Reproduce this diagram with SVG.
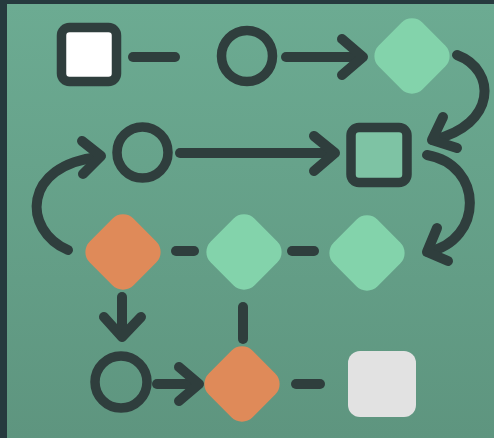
<svg xmlns="http://www.w3.org/2000/svg" width="494" height="438" viewBox="0 0 494 438">
<defs>
<linearGradient id="bg" x1="0" y1="0" x2="0" y2="1">
<stop offset="0" stop-color="#6cab92"/>
<stop offset="1" stop-color="#5e957f"/>
</linearGradient>
<rect id="dia" x="-31" y="-31" width="62" height="62" rx="15" transform="rotate(45)"/>
</defs>
<style>
.ln{fill:none;stroke:#2f3e3d;stroke-width:10;stroke-linecap:round;stroke-linejoin:round}
.node{stroke:#2f3e3d;stroke-width:9.5}
.green{fill:#83d3ab}
.orange{fill:#df8a59}
</style>
<rect width="494" height="438" fill="#263a3e"/>
<rect x="7" y="4" width="487" height="434" fill="url(#bg)"/>
<g id="connectors" class="ln">
<line x1="133" y1="57" x2="175" y2="57"/>
<line x1="286" y1="57" x2="362" y2="57"/>
<polyline points="342,39 363,57 342,75"/>
<path d="M457,55 C497,70 497,125 433,140"/>
<polyline points="443,117 432,140 457,148"/>
<line x1="180" y1="153" x2="334" y2="153"/>
<polyline points="314,136 335,153 314,171"/>
<path d="M427,155 C484,165 484,240 428,252"/>
<polyline points="437,228 427,252 448,261"/>
<path d="M68,250 C22,230 22,165 99,157"/>
<polyline points="82,141 101,156 83,174"/>
<line x1="176" y1="251" x2="194" y2="251"/>
<line x1="292" y1="251" x2="314" y2="251"/>
<line x1="122" y1="297" x2="122" y2="336"/>
<polyline points="104,317 122,337 141,317"/>
<line x1="243" y1="307" x2="243" y2="339"/>
<line x1="157" y1="384" x2="198" y2="384"/>
<polyline points="179,367 199,384 179,401"/>
<line x1="296" y1="384" x2="320" y2="384"/>
</g>
<g id="start-square"><rect class="node" x="61.5" y="27.5" width="55" height="54" rx="8" fill="#ffffff"/></g>
<g id="circle-top"><circle class="node" cx="247" cy="56" r="25.5" fill="none"/></g>
<g id="diamond-top"><use href="#dia" class="green" transform="translate(412,56)"/></g>
<g id="circle-mid"><circle class="node" cx="142.5" cy="152.5" r="25.5" fill="none"/></g>
<g id="square-mid"><rect class="node" x="351" y="127.5" width="56" height="55" rx="8" fill="#7ec3a4"/></g>
<g id="diamond-orange-1"><use href="#dia" class="orange" transform="translate(123,252)"/></g>
<g id="diamond-green-2"><use href="#dia" class="green" transform="translate(244,252)"/></g>
<g id="diamond-green-3"><use href="#dia" class="green" transform="translate(367,253)"/></g>
<g id="circle-bottom"><circle class="node" cx="121" cy="382" r="26" fill="none"/></g>
<g id="diamond-orange-2"><use href="#dia" class="orange" transform="translate(242,384)"/></g>
<g id="end-square"><rect x="348" y="351" width="68" height="66" rx="12" fill="#e2e2e2"/></g>
</svg>
